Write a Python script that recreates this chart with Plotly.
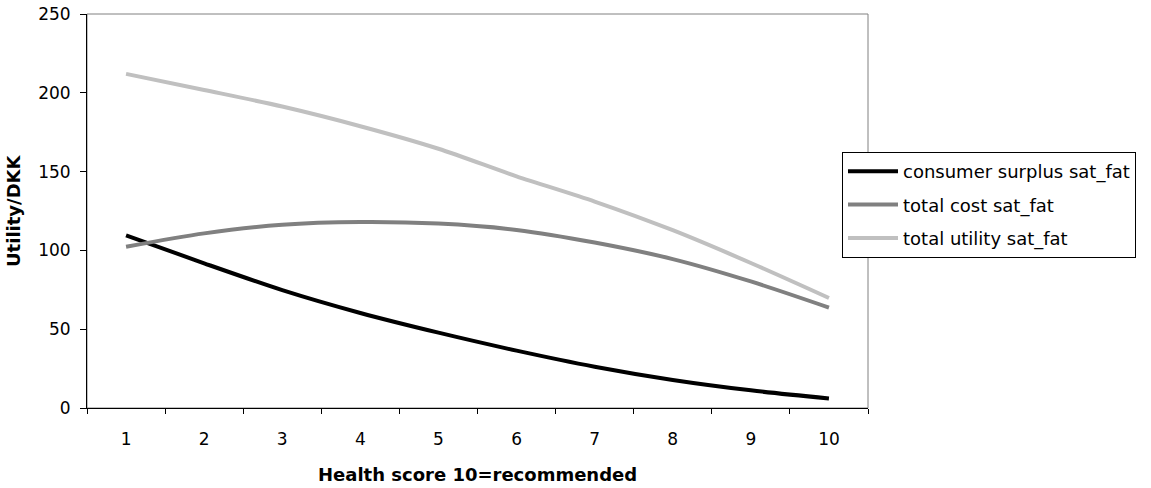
import plotly.graph_objects as go

health_score = ["1", "2", "3", "4", "5", "6", "7", "8", "9", "10"]
consumer_surplus = [109.6, 91.8, 74.8, 60.3, 47.8, 36.4, 26.2, 17.8, 11.2, 6.0]
total_cost = [102.3, 110.8, 116.3, 118.0, 117.0, 113.0, 105.0, 94.5, 80.3, 63.7]
total_utility = [212.0, 201.8, 191.3, 178.8, 164.5, 147.0, 131.0, 112.8, 92.0, 69.8]

series_names = ["consumer surplus sat_fat", "total cost sat_fat", "total utility sat_fat"]
series_values = [consumer_surplus, total_cost, total_utility]
series_colors = ["#000000", "#808080", "#C0C0C0"]

y_ticks = [0, 50, 100, 150, 200, 250]

FONT = "DejaVu Sans, Arial, sans-serif"

fig = go.Figure()
for name, vals, col in zip(series_names, series_values, series_colors):
    fig.add_trace(go.Scatter(
        x=health_score, y=vals, name=name, mode="lines",
        line=dict(color=col, width=4, shape="spline", smoothing=0.8),
        legendgroup=name,
    ))

fig.update_layout(
    width=1151, height=488,
    margin=dict(l=87, r=283, t=14, b=80, pad=0, autoexpand=False),
    paper_bgcolor="white", plot_bgcolor="white",
    font=dict(family=FONT, size=17, color="#000000"),
    showlegend=True,
    legend=dict(
        x=(842 - 87) / 781, xanchor="left",
        y=(408 - 152) / 394, yanchor="top",
        bordercolor="#000000", borderwidth=1, bgcolor="white",
        font=dict(family=FONT, size=18, color="#000000"),
        traceorder="grouped", tracegroupgap=7,
        itemwidth=50,
    ),
    xaxis=dict(
        type="category", range=[-0.5, 9.5], automargin=False,
        showgrid=False, zeroline=False,
        showline=True, linecolor="#000000", linewidth=1,
        ticks="outside", ticklen=5, tickcolor="#000000", tickwidth=1,
        tickson="boundaries", ticklabelstandoff=16,
        tickfont=dict(family=FONT, size=17),
    ),
    yaxis=dict(
        range=[0, 250], tickvals=y_ticks, automargin=False,
        showgrid=False, zeroline=False,
        showline=True, linecolor="#000000", linewidth=1,
        ticks="outside", ticklen=6, tickcolor="#000000", tickwidth=1,
        ticklabelstandoff=6,
        tickfont=dict(family=FONT, size=17),
    ),
    shapes=[dict(type="rect", xref="paper", yref="paper", x0=0, x1=1, y0=0, y1=1,
                 line=dict(color="#808080", width=1), layer="below")],
    annotations=[
        dict(text="<b>Health score 10=recommended</b>", xref="paper", yref="paper",
             x=0.5, y=(408 - 474) / 394, xanchor="center", yanchor="middle",
             showarrow=False, font=dict(family=FONT, size=18, color="#000000")),
        dict(text="<b>Utility/DKK</b>", xref="paper", yref="paper",
             x=(13 - 87) / 781, y=0.5, xanchor="center", yanchor="middle",
             textangle=-90, showarrow=False,
             font=dict(family=FONT, size=18, color="#000000")),
    ],
)

fig.write_html(
    "out.html",
    config={"displayModeBar": False},
    post_script="document.body.style.margin='0';document.body.style.overflow='hidden';",
)
